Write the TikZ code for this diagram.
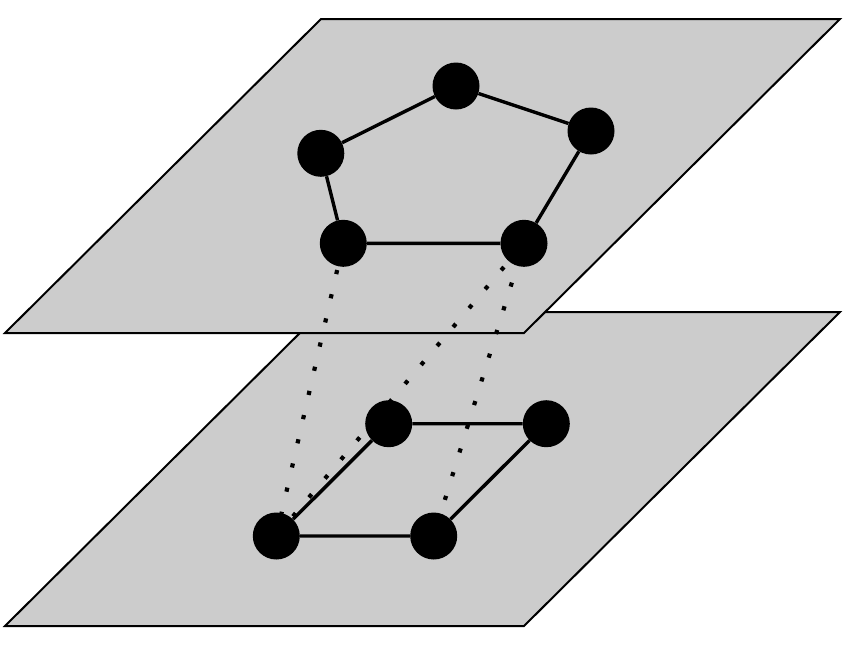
\documentclass[tikz,border=0pt]{standalone}
\begin{document}
\begin{tikzpicture}[x=1pt,y=-1pt,
  plane/.style={fill=planegray,draw=black,line width=2pt,line join=miter},
  vtx/.style={circle,fill=black,draw=none,inner sep=0pt,minimum size=47pt},
  edge/.style={line width=3.4pt},
  dotline/.style={line width=4.2pt,line cap=butt,dash pattern=on 4.2pt off 20.6pt}]
\definecolor{planegray}{HTML}{CCCCCC}
\useasboundingbox (0,0) rectangle (854,646);
% planes
\draw[plane] (5,626) -- (321,312) -- (840,312) -- (524,626) -- cycle;
\draw[plane] (5,333) -- (321,19) -- (840,19) -- (524,333) -- cycle;
% vertex positions
\coordinate (pa) at (320.8,153.3);
\coordinate (pb) at (456,86);
\coordinate (pc) at (591,131);
\coordinate (pd) at (343.3,243.3);
\coordinate (pe) at (524,243.3);
\coordinate (qa) at (388.7,423.7);
\coordinate (qb) at (546.3,423.7);
\coordinate (qc) at (276.3,536);
\coordinate (qd) at (433.7,536);
% dotted links between layers
\draw[dotline,dash phase=22.2pt] (pd) -- (qc);
\draw[dotline,dash phase=18.5pt] (pe) -- (qc);
\draw[dotline,dash phase=8.5pt] (pe) -- (qd);
% vertices
\node[vtx] (a) at (pa) {};
\node[vtx] (b) at (pb) {};
\node[vtx] (c) at (pc) {};
\node[vtx] (d) at (pd) {};
\node[vtx] (e) at (pe) {};
\node[vtx] (f) at (qa) {};
\node[vtx] (g) at (qb) {};
\node[vtx] (h) at (qc) {};
\node[vtx] (i) at (qd) {};
% edges
\draw[edge] (a) -- (b) -- (c) -- (e) -- (d) -- (a);
\draw[edge] (f) -- (g) -- (i) -- (h) -- (f);
\end{tikzpicture}
\end{document}
